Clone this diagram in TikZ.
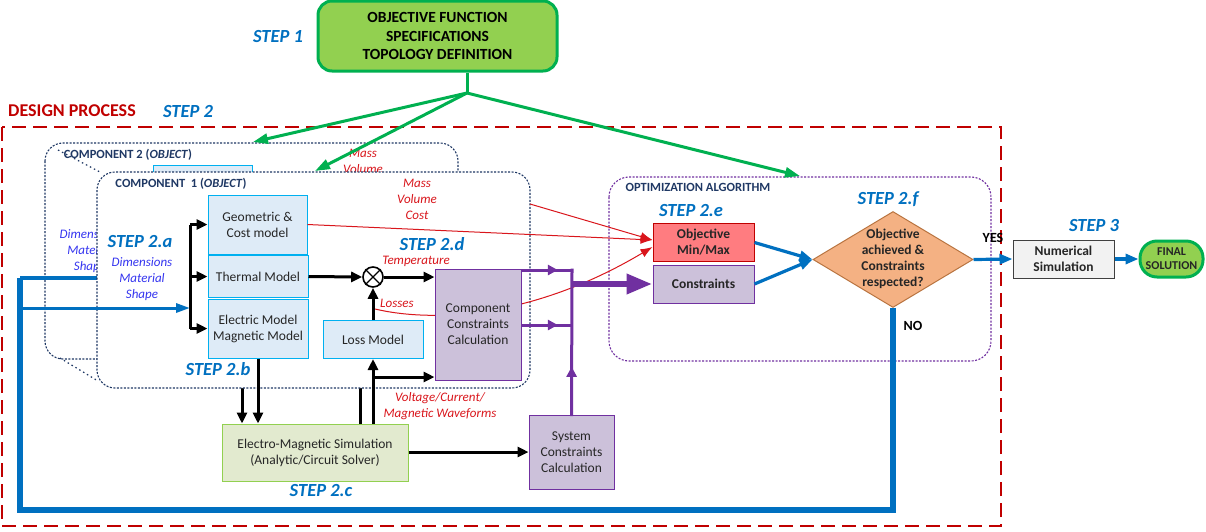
\documentclass[tikz,border=0pt]{standalone}
\usepackage{fontspec}
\setmainfont{Carlito}
\usetikzlibrary{arrows.meta,shapes.geometric,decorations.markings,calc}
\definecolor{stepblue}{HTML}{0070C0}
\definecolor{dred}{HTML}{C00000}
\definecolor{annred}{HTML}{D9161C}
\definecolor{navy}{HTML}{1F3864}
\definecolor{grn}{HTML}{00B050}
\definecolor{lgrn}{HTML}{92D050}
\definecolor{lblue}{HTML}{DEEBF7}
\definecolor{cyanb}{HTML}{00B0F0}
\definecolor{purp}{HTML}{7030A0}
\definecolor{lpurp}{HTML}{CCC1DA}
\definecolor{objred}{HTML}{FF7C80}
\definecolor{orng}{HTML}{F4B183}
\definecolor{orngb}{HTML}{B97440}
\definecolor{emfill}{HTML}{E2EACF}
\definecolor{dimblue}{HTML}{3535F0}
\definecolor{numfill}{HTML}{F2F2F2}
\definecolor{numbord}{HTML}{404040}
\definecolor{txt}{HTML}{262626}
\tikzset{
 fbody/.style={font=\fontsize{13.5}{16}\selectfont},
 fbold/.style={font=\fontsize{13.5}{16}\selectfont\bfseries},
 steplbl/.style={text=stepblue, font=\fontsize{18.5}{20}\selectfont\bfseries\itshape, inner sep=0},
 annot/.style={text=annred, font=\fontsize{13}{16}\selectfont\itshape, align=center, inner sep=0},
 dimtxt/.style={text=dimblue, font=\fontsize{13}{16}\selectfont\itshape, align=center, inner sep=0},
 comptitle/.style={text=navy, font=\fontsize{12.5}{14}\selectfont\bfseries, inner sep=0},
 modelbox/.style={draw=cyanb, fill=lblue, line width=1, inner sep=0, align=center, fbody, text=txt},
 purpbox/.style={draw=purp, fill=lpurp, line width=1, inner sep=0, align=center, fbody, text=txt},
 navydot/.style={navy, line width=1.1, dash pattern=on 2pt off 1.5pt},
 perspdot/.style={navy, line width=1.2, dash pattern=on 1.5pt off 3pt},
 blk/.style={black, line width=3},
 blkarr/.style={black, line width=3, -{Triangle[length=11pt,width=10pt]}},
 redarr/.style={annred, line width=1, -{Latex[length=12pt,width=9pt]}},
 bluearr/.style={stepblue, line width=3.2, -{Triangle[length=13pt,width=10pt]}},
 grnarr/.style={grn, line width=3, -{Triangle[length=15pt,width=10pt]}},
 purpline/.style={purp, line width=3},
 midarr/.style={postaction={decorate}, decoration={markings, mark=at position #1 with {\arrow{Triangle[length=10pt,width=10pt]}}}},
}
\begin{document}
\begin{tikzpicture}[x=1pt,y=-1pt]
\useasboundingbox (0,0) rectangle (1206,531);

% design process frame
\draw[dred, line width=1.3, dash pattern=on 14pt off 7pt] (2,127) rectangle (1001,526);
\node[font=\fontsize{18}{20}\selectfont\bfseries, text=dred, inner sep=0] (dp) at (72,111) {DESIGN PROCESS};
\node[steplbl] (s2) at (188,111) {STEP 2};

% top box
\node[draw=grn, fill=lgrn, line width=3, rounded corners=14, minimum width=239, minimum height=70, inner sep=0, align=center,
      font=\fontsize{15.5}{18.5}\selectfont\bfseries, text=black] (top) at (437.5,36) {OBJECTIVE FUNCTION\\SPECIFICATIONS\\TOPOLOGY DEFINITION};
\node[steplbl] (s1) at (278,37) {STEP 1};

% optimization algorithm box
\draw[purp, line width=1.1, dash pattern=on 2pt off 1.5pt, rounded corners=20] (609,177) rectangle (991,361);
\node[comptitle] (optt) at (698,187) {OPTIMIZATION ALGORITHM};
\node[steplbl] (s2e) at (691,210) {STEP 2.e};
\node[draw=dred, fill=objred, line width=1, minimum width=101, minimum height=38, inner sep=0, align=center, fbold, text=txt] (obj) at (703.5,242.5) {Objective\\Min/Max};
\node[draw=purp, fill=lpurp, line width=1, minimum width=101, minimum height=38, inner sep=0, fbold, text=txt] (cons) at (703.5,284) {Constraints};
\node[diamond, draw=orngb, fill=orng, line width=1, minimum width=160, minimum height=96, inner sep=0] (dec) at (893,259.5) {};
\node[align=center, fbold, text=txt, inner sep=0] (dect) at (893,259) {Objective\\achieved \&\\Constraints\\respected?};
\node[steplbl] (s2f) at (888,199) {STEP 2.f};

% step 3
\node[draw=numbord, fill=numfill, line width=1, minimum width=101, minimum height=38, inner sep=0, align=center, fbold, text=txt] (num) at (1063.5,259) {Numerical\\Simulation};
\node[draw=grn, fill=lgrn, line width=3, rounded corners=17, minimum width=63, minimum height=36, inner sep=0, align=center,
      font=\fontsize{12}{14}\selectfont\bfseries, text=txt] (fin) at (1171.5,259) {FINAL\\SOLUTION};
\node[steplbl] (s3) at (1094,225) {STEP 3};
\node[font=\fontsize{14}{16}\selectfont\bfseries, inner sep=0] (yes) at (993,238) {YES};
\node[font=\fontsize{14}{16}\selectfont\bfseries, inner sep=0] (no) at (913,326) {NO};

% lower boxes
\node[draw=lgrn, fill=emfill, line width=1, minimum width=186, minimum height=57, inner sep=0, align=center, fbody, text=txt] (em) at (315,452.5) {Electro-Magnetic Simulation\\(Analytic/Circuit Solver)};
\node[steplbl] (s2c) at (321,490) {STEP 2.c};
\node[purpbox, minimum width=85, minimum height=74] (sys) at (571.5,452) {System\\Constraints\\Calculation};
\node[annot] (vcw) at (440,406) {Voltage/Current/\\Magnetic Waveforms};

% component 2 (behind)
\draw[navydot, fill=white, rounded corners=18] (45,143) rectangle (458,359);
\node[comptitle] (c2t) at (128,155) {COMPONENT 2 (\textit{OBJECT})};
\node[modelbox, minimum width=99, minimum height=59] (geoB) at (203,195) {};
\node[dimtxt] (dimB) at (90,251) {Dimensions\\Material\\Shape};
\node[annot] (massB) at (363,169) {Mass\\Volume\\Cost};
\draw[perspdot] (58,150) -- (100,172);
\draw[perspdot] (60,358) -- (98,381);

% connectors hidden partly behind component 1
\coordinate (lt) at (20,278);
\coordinate (lb) at (20,510);
\coordinate (c2in) at (130,278);
\coordinate (c2el) at (242,375);
\coordinate (c2ls) at (360,375);
\draw[stepblue, line width=5.5, line join=miter] (dec.south) -- (dec.south |- lb) -- (lb) -- (lt);
\draw[stepblue, line width=4] (lt) -- (c2in);
\draw[blkarr] (c2el) -- (c2el |- em.north);
\draw[blk] (em.north -| c2ls) -- (c2ls);

% component 1
\draw[navydot, fill=white, rounded corners=18] (97,172) rectangle (530,388);
\node[comptitle] (c1t) at (181,184) {COMPONENT~~1 (\textit{OBJECT})};
\node[modelbox, minimum width=99, minimum height=59] (geo) at (257.5,224.5) {Geometric \&\\Cost model};
\node[modelbox, minimum width=100, minimum height=42] (thm) at (258,276.5) {Thermal Model};
\node[modelbox, minimum width=100, minimum height=59] (elec) at (258,328.5) {Electric Model\\Magnetic Model};
\node[modelbox, minimum width=100, minimum height=38] (loss) at (373,339.5) {Loss Model};
\node[steplbl] (s2a) at (140,241) {STEP 2.a};
\node[dimtxt] (dimA) at (142,279) {Dimensions\\Material\\Shape};
\node[steplbl] (s2b) at (218,369) {STEP 2.b};
\node[annot] (massA) at (417,199) {Mass\\Volume\\Cost};
\node[steplbl] (s2d) at (432,244) {STEP 2.d};
\node[annot] (temp) at (416,261) {Temperature};
\node[annot] (lossl) at (397,303) {Losses};
\node[circle, draw, line width=1.6, minimum size=20, inner sep=0, fill=white] (mult) at (373,277) {};
\draw[line width=1.3] (mult.north west) -- (mult.south east) (mult.north east) -- (mult.south west);

% red curves
\coordinate (lossred) at (375,309);
\coordinate (c2out) at (530,204);
\coordinate (objin) at ($(obj.west)+(0,-2.5)$);
\coordinate (objin2) at ($(obj.west)+(0,4.5)$);
\draw[redarr] (lossred) .. controls (430,322) and (530,320) .. (objin2);
\draw[redarr] (geo.east) -- (objin);
\draw[redarr] (c2out) -- (objin);

\node[purpbox, minimum width=86, minimum height=111] (cc) at (478,324.5) {Component\\Constraints\\Calculation};

% black connectors
\coordinate (bx) at (190,308);
\coordinate (br) at (373,377);
\draw[blk] (geo.west -| bx) -- (elec.west -| bx);
\draw[blkarr] (geo.west -| bx) -- (geo.west);
\draw[blkarr] (thm.west -| bx) -- (thm.west);
\draw[blkarr] (elec.west -| bx) -- (elec.west);
\draw[blkarr] (thm.east) -- (mult.west);
\draw[blkarr] (mult.east) -- (mult.east -| cc.west);
\draw[blkarr] (loss.north) -- (mult.south);
\draw[blkarr] (loss.south |- em.north) -- (loss.south);
\draw[blkarr] (br) -- (br -| cc.west);
\draw[blkarr] (elec.south) -- (elec.south |- em.north);
\draw[blkarr] (em.east |- sys.west) -- (sys.west);

% blue connectors
\draw[stepblue, line width=3, -{Triangle[length=14pt,width=9pt]}] (lt |- bx) -- (bx);
\draw[bluearr] (obj.east) -- (dec.west);
\draw[bluearr] (cons.east) -- (dec.west);
\draw[bluearr] (dec.east) -- (num.west);
\draw[bluearr] (num.east) -- (fin.west);

% purple connectors
\coordinate (pjtop) at (572,270);
\coordinate (pjmid) at (572,284);
\coordinate (pjlow) at (572,325);
\draw[purpline, midarr=0.72] (cc.east |- pjtop) -- (pjtop);
\draw[purpline, midarr=0.72] (cc.east |- pjlow) -- (pjlow);
\draw[purpline, midarr=0.33, line cap=rect] (sys.north) -- (pjtop);
\draw[purp, line width=6.5, -{Triangle[length=26pt,width=19pt]}] (pjmid) -- (cons.west);

% green connectors
\coordinate (gj) at (467,93);
\coordinate (g1) at (253,142);
\coordinate (g2) at (315,171);
\coordinate (g3) at (800,176);
\draw[grn, line width=3] (gj |- top.south) -- (gj);
\draw[grnarr] (gj) -- (g1);
\draw[grnarr] (gj) -- (g2);
\draw[grnarr] (gj) -- (g3);
\end{tikzpicture}
\end{document}
